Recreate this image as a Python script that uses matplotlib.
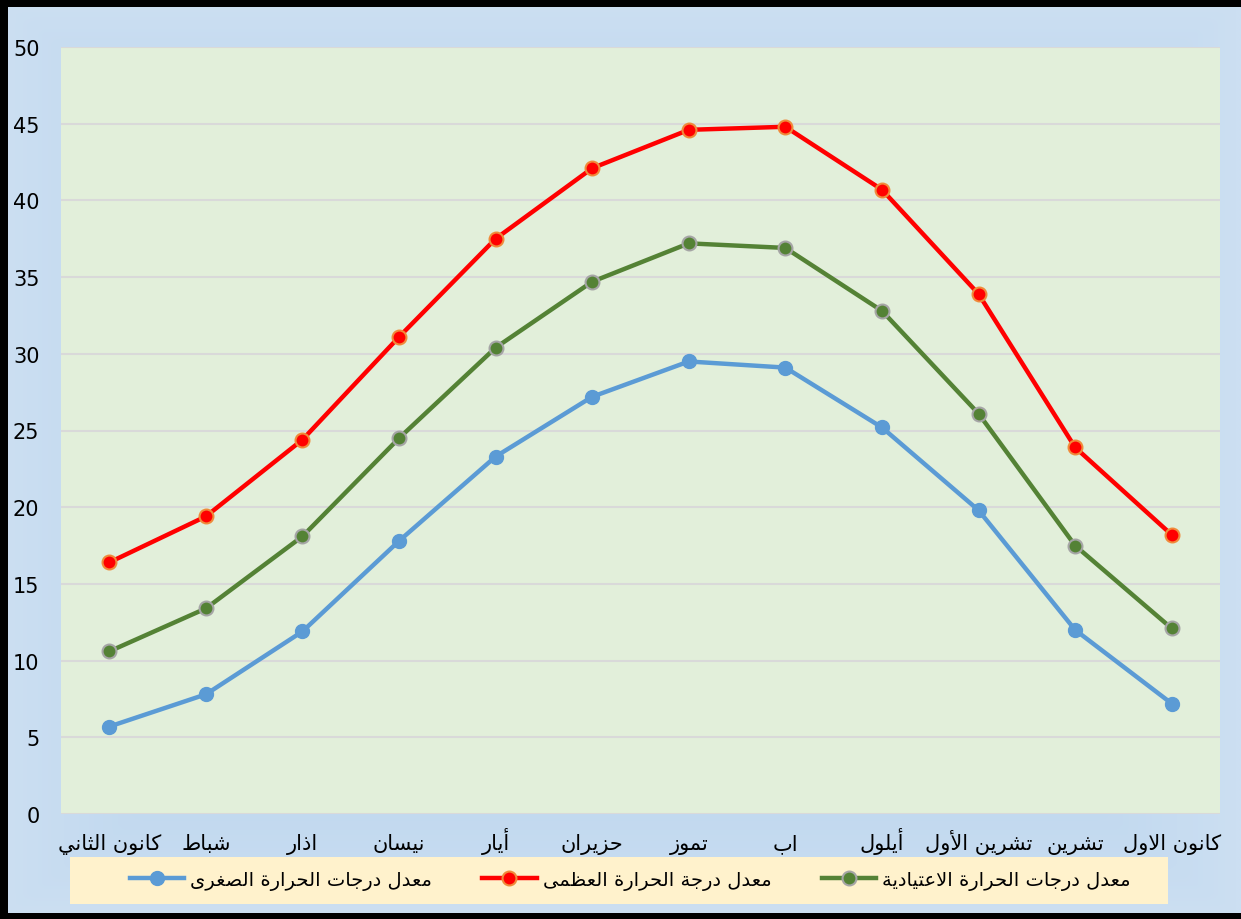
import numpy as np
import matplotlib
matplotlib.use("Agg")
import matplotlib.pyplot as plt
from matplotlib.patches import Rectangle

months = ["كانون الثاني", "شباط", "اذار", "نيسان", "أيار", "حزيران",
          "تموز", "اب", "أيلول", "تشرين الأول", "تشرين", "كانون الاول"]

t_max = [16.4, 19.4, 24.4, 31.1, 37.5, 42.1, 44.6, 44.8, 40.7, 33.9, 23.9, 18.2]
t_mean = [10.6, 13.4, 18.1, 24.5, 30.4, 34.7, 37.2, 36.9, 32.8, 26.1, 17.5, 12.1]
t_min = [5.7, 7.8, 11.9, 17.8, 23.3, 27.2, 29.5, 29.1, 25.2, 19.8, 12.0, 7.2]

label_min = "معدل درجات الحرارة الصغرى"
label_max = "معدل درجة الحرارة العظمى"
label_mean = "معدل درجات الحرارة الاعتيادية"

# presentation forms: (first code point, number of forms)
FORMS = {'ا': (0xFE8D, 2), 'أ': (0xFE83, 2), 'ب': (0xFE8F, 4), 'ة': (0xFE93, 2),
         'ت': (0xFE95, 4), 'ث': (0xFE99, 4), 'ج': (0xFE9D, 4), 'ح': (0xFEA1, 4),
         'د': (0xFEA9, 2), 'ذ': (0xFEAB, 2), 'ر': (0xFEAD, 2), 'ز': (0xFEAF, 2),
         'س': (0xFEB1, 4), 'ش': (0xFEB5, 4), 'ص': (0xFEB9, 4), 'ط': (0xFEC1, 4),
         'ظ': (0xFEC5, 4), 'ع': (0xFEC9, 4), 'غ': (0xFECD, 4), 'ك': (0xFED9, 4),
         'ل': (0xFEDD, 4), 'م': (0xFEE1, 4), 'ن': (0xFEE5, 4), 'و': (0xFEED, 2),
         'ى': (0xFEEF, 2), 'ي': (0xFEF1, 4)}
LAM_ALEF = {'ا': (0xFEFB, 2), 'أ': (0xFEF7, 2)}


def shape_ar(text):
    units = []
    i = 0
    while i < len(text):
        c = text[i]
        if c == 'ل' and i + 1 < len(text) and text[i + 1] in LAM_ALEF:
            units.append(LAM_ALEF[text[i + 1]])
            i += 2
        else:
            units.append(FORMS.get(c, c))
            i += 1
    out = []
    for k, u in enumerate(units):
        if isinstance(u, str):
            out.append(u)
            continue
        start, n = u
        prev = units[k - 1] if k > 0 else None
        nxt = units[k + 1] if k + 1 < len(units) else None
        jp = isinstance(prev, tuple) and prev[1] == 4
        jn = n == 4 and isinstance(nxt, tuple)
        if n == 2:
            off = 1 if jp else 0
        else:
            off = 3 if (jp and jn) else 1 if jp else 2 if jn else 0
        out.append(chr(start + off))
    return "".join(out)[::-1]


plt.rcParams['font.family'] = ['DejaVu Sans']

fig = plt.figure(figsize=(12.41, 9.2), dpi=100)
fig.patch.set_facecolor('#C1D7EF')

# soft gradient behind everything
gy, gx = np.mgrid[0:1:92j, 0:1:124j]
glow = np.clip(np.maximum(np.abs(gx - 0.5) * 2, np.abs(gy - 0.5) * 2), 0, 1) ** 4
c0 = np.array([0xBD, 0xD6, 0xEE]) / 255
c1 = np.array([0xCC, 0xDF, 0xF2]) / 255
grad = c0 + (c1 - c0) * glow[..., None]
bg = fig.add_axes([0, 0, 1, 1], zorder=-10)
bg.imshow(grad, aspect='auto', extent=(0, 1, 0, 1), interpolation='bilinear')
bg.axis('off')

ax = fig.add_axes([61 / 1241, 105 / 920, 1159 / 1241, 767 / 920])
ax.set_facecolor('#E2EFDA')

x = np.arange(len(months))
l_min, = ax.plot(x, t_min, color='#5B9BD5', lw=3.2, marker='o', ms=10,
                 mfc='#5B9BD5', mec='#5B9BD5', label=shape_ar(label_min), zorder=3)
l_max, = ax.plot(x, t_max, color='#FF0000', lw=3.2, marker='o', ms=10,
                 mfc='#FF0000', mec='#F08A3A', mew=1.5, label=shape_ar(label_max), zorder=3)
l_mean, = ax.plot(x, t_mean, color='#548235', lw=3.2, marker='o', ms=10,
                  mfc='#548235', mec='#A5A5A5', mew=1.5, label=shape_ar(label_mean), zorder=3)

ax.set_xlim(-0.5, 11.5)
ax.set_ylim(0, 50)
ax.set_yticks(range(0, 51, 5))
ax.set_xticks(x)
ax.set_xticklabels([shape_ar(m) for m in months])
ax.tick_params(axis='both', length=0, colors='black')
ax.tick_params(axis='y', pad=15.5, labelsize=15)
ax.tick_params(axis='x', pad=25, labelsize=15)
for lab in ax.get_xticklabels():
    lab.set_verticalalignment('baseline')
ax.grid(axis='y', color='#D9D9D9', lw=1.5, zorder=0)
ax.set_axisbelow(True)
for s in ax.spines.values():
    s.set_visible(False)

# legend band
fig.patches.append(Rectangle((70 / 1241, 15 / 920), 1098 / 1241, 47 / 920,
                             transform=fig.transFigure, facecolor='#FFF2CC',
                             edgecolor='none', zorder=1))
fig.legend(handles=[l_min, l_max, l_mean], loc='center',
           bbox_to_anchor=(630 / 1241, 39 / 920), ncol=3, frameon=False,
           fontsize=14, handlelength=2.8, handletextpad=0.3, columnspacing=2.6)

# black frame
for r in [(0, 912 / 920, 1, 8 / 920), (0, 0, 8 / 1241, 1), (0, 0, 1, 6 / 920)]:
    fig.patches.append(Rectangle(r[:2], r[2], r[3], transform=fig.transFigure,
                                 facecolor='black', edgecolor='none', zorder=5))

fig.savefig("out.png", dpi=100, facecolor=fig.get_facecolor())
